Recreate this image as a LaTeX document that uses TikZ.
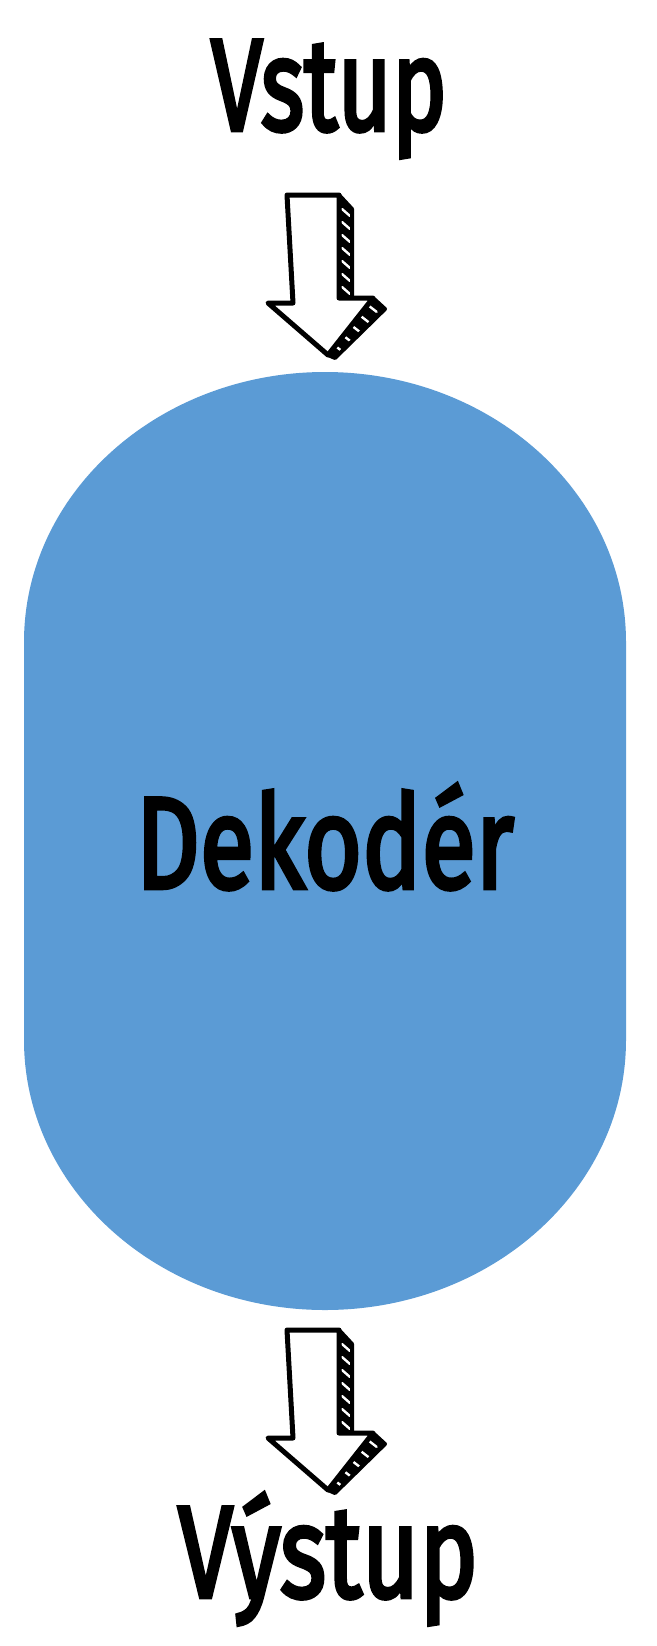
\documentclass[tikz,border=0pt]{standalone}
\usepackage{fontspec}
\newfontfamily\handfont{Fira Sans}[FakeBold=3.5]
\usepackage{graphicx}
\definecolor{blobblue}{HTML}{5B9BD5}
\newsavebox\fitbox
\newcommand\fitw[2]{\sbox\fitbox{#2}\pgfmathsetmacro\myscx{#1/\the\wd\fitbox}\scalebox{\myscx}[1]{\usebox\fitbox}}
\tikzset{
  lbl/.style={inner sep=0pt, font=\fontsize{130}{140}\selectfont\handfont},
  blobbox/.style={rectangle, draw=none, minimum width=602pt, minimum height=938pt, inner sep=0pt},
  blobfill/.style={fill=blobblue},
  arrowface/.style={fill=white, draw=black, line width=5pt, line join=round},
  arrowedge/.style={draw=black, line width=4pt, line join=round},
  hatch/.style={draw=white, line width=2.4pt, line cap=round},
  pics/blockarrow/.style={code={
    % shaft side
    \fill[black] (52,0) -- (65,14) -- (65,103) -- (52,103) -- cycle;
    \begin{scope}
      \clip (52,0) -- (65,14) -- (65,103) -- (52,103) -- cycle;
      \foreach \k in {14,27,...,100} {\draw[hatch] (55,\k) -- (63,\k+7);}
    \end{scope}
    \draw[arrowedge] (52,0) -- (65,14) -- (65,103) -- (52,103) -- cycle;
    % head side band
    \fill[black] (86,103) -- (98,114) -- (48,163) -- (41,160) -- cycle;
    \begin{scope}
      \clip (86,103) -- (98,114) -- (48,163) -- (41,160) -- cycle;
      \foreach \t in {0.12,0.3,...,0.9} {\draw[hatch] ($(86,103)+\t*(-45,57)+(0,0)$) -- ++(9,7);}
    \end{scope}
    \draw[arrowedge] (86,103) -- (98,114) -- (48,163) -- (41,160) -- cycle;
    % front face
    \draw[arrowface] (0,0) -- (52,0) -- (52,103) -- (86,103) -- (41,160) -- (-19,108) -- (6,108) -- cycle;
  }}
}
\usetikzlibrary{calc}
\begin{document}
\begin{tikzpicture}[x=1pt,y=-1pt]
  \useasboundingbox (0,0) rectangle (656,1646);
  \node[lbl, anchor=base] (in) at (329,130) {\fitw{236}{Vstup}};
  \node[blobbox] (dec) at (325,841) {};
  \fill[blobfill] (24,642) arc[start angle=180, end angle=0, x radius=301pt, y radius=270pt]
     -- (626,1040) arc[start angle=0, end angle=-180, x radius=301pt, y radius=270pt] -- cycle;
  \node[lbl, anchor=base] (dectext) at (325,888) {\fitw{378}{Dekodér}};
  \node[lbl, anchor=base] (out) at (328,1597) {\fitw{300}{Výstup}};
  \coordinate (a1) at (287,195);
  \coordinate (a2) at (287,1330);
  \pic at (a1) {blockarrow};
  \pic at (a2) {blockarrow};
\end{tikzpicture}
\end{document}
